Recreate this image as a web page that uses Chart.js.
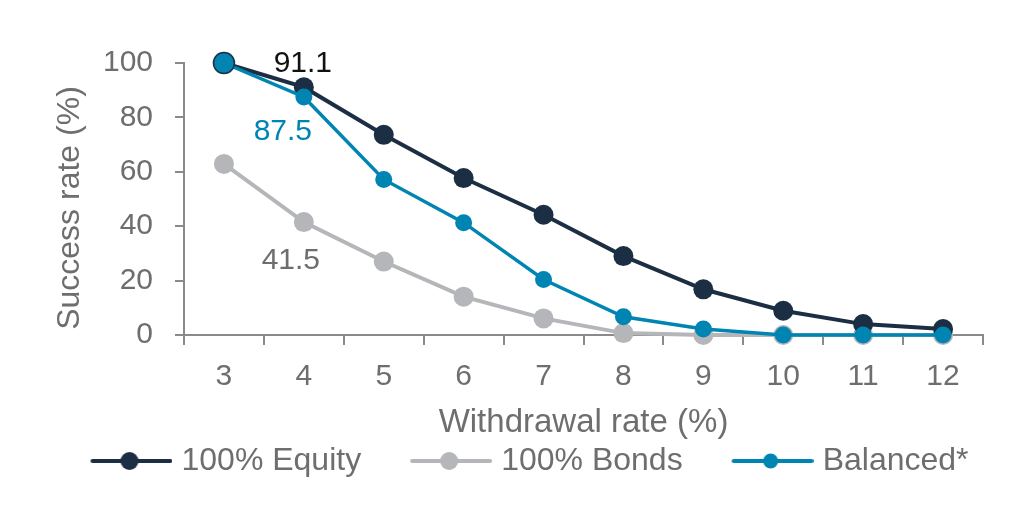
<!DOCTYPE html>
<html>
<head>
<meta charset="utf-8">
<title>Success rate by withdrawal rate</title>
<script src="https://cdn.jsdelivr.net/npm/chart.js@4.4.1/dist/chart.umd.min.js"></script>
<style>
    html, body { margin: 0; padding: 0; background: #fff; }
    #wrap { width: 1024px; height: 516px; }
</style>
</head>
<body>
<div id="wrap"><canvas id="successChart"></canvas></div>
<script>
// Data
const withdrawalRates = ['3', '4', '5', '6', '7', '8', '9', '10', '11', '12'];
const equityValues = [100, 91.1, 73.6, 57.7, 44.2, 29.0, 16.8, 8.9, 4.0, 2.2];
const bondsValues = [62.9, 41.5, 27.0, 14.1, 6.1, 0.7, 0, 0, 0, 0];
const balancedValues = [100, 87.5, 57.2, 41.3, 20.4, 6.7, 2.2, 0, 0, 0];
const seriesNames = ['100% Equity', '100% Bonds', 'Balanced*'];
const yTickValues = [0, 20, 40, 60, 80, 100];

const NAVY = '#1b2e43';
const GREY = '#b5b6b9';
const TEAL = '#0085b3';
const TEXT = '#6e6e6e';
const AXIS = '#8a8a8a';
const FONT = "'Liberation Sans', Arial, sans-serif";

Chart.defaults.font.family = FONT;
Chart.defaults.color = TEXT;

// legend icon: a short line with a dot on it
const LEGEND_BOX = 120;
function legendIcon(color, lineW, r) {
    const c = document.createElement('canvas');
    c.width = LEGEND_BOX + 14;
    c.height = 24;
    const ctx = c.getContext('2d');
    ctx.strokeStyle = color;
    ctx.lineWidth = lineW;
    ctx.lineCap = 'round';
    ctx.beginPath();
    ctx.moveTo(c.width - 82 + 2, 12);
    ctx.lineTo(c.width - 2, 12);
    ctx.stroke();
    ctx.fillStyle = color;
    ctx.beginPath();
    ctx.arc(c.width - 43, 12, r, 0, Math.PI * 2);
    ctx.fill();
    return c;
}
const legendIcons = [legendIcon(NAVY, 4, 9), legendIcon(GREY, 4, 9), legendIcon(TEAL, 4, 7.5)];

// value labels placed next to the 4% points
const valueLabels = [
    { dataset: 0, index: 1, color: '#111111', dx: -1, dy: -15 },
    { dataset: 2, index: 1, color: TEAL, dx: -21, dy: 43 },
    { dataset: 1, index: 1, color: TEXT, dx: -13, dy: 47 }
];

const valueLabelPlugin = {
    id: 'valueLabels',
    afterDatasetsDraw(chart) {
        const ctx = chart.ctx;
        ctx.save();
        ctx.font = '30px ' + FONT;
        ctx.textAlign = 'center';
        ctx.textBaseline = 'alphabetic';
        valueLabels.forEach(l => {
            const pt = chart.getDatasetMeta(l.dataset).data[l.index];
            const v = chart.data.datasets[l.dataset].data[l.index];
            ctx.fillStyle = l.color;
            ctx.fillText(v.toFixed(1), pt.x + l.dx, pt.y + l.dy);
        });
        ctx.restore();
    }
};

// the y title in the reference sits a little below the middle of the axis
const yTitleShift = {
    id: 'yTitleShift',
    afterLayout(chart) {
        const s = chart.scales.y;
        if (s._shifted) return;
        const orig = s.drawTitle;
        s.drawTitle = function () {
            const c = this.ctx;
            c.save();
            c.translate(0, 9);
            orig.apply(this, arguments);
            c.restore();
        };
        s._shifted = true;
    }
};

const ctx = document.getElementById('successChart').getContext('2d');
new Chart(ctx, {
    type: 'line',
    data: {
        labels: withdrawalRates,
        datasets: [
            {
                label: seriesNames[0],
                data: equityValues,
                borderColor: NAVY,
                backgroundColor: NAVY,
                borderWidth: 4,
                pointRadius: 10,
                pointBorderWidth: 0,
                order: 1
            },
            {
                label: seriesNames[1],
                data: bondsValues,
                borderColor: GREY,
                backgroundColor: GREY,
                borderWidth: 4,
                pointRadius: 10,
                pointBorderWidth: 0,
                order: 2
            },
            {
                label: seriesNames[2],
                data: balancedValues,
                borderColor: TEAL,
                backgroundColor: TEAL,
                borderWidth: 3.5,
                pointRadius: [10.5, 8.5, 8.5, 8.5, 8.5, 8.5, 8.5, 8.5, 8.5, 8.5],
                pointBorderColor: [NAVY, TEAL, TEAL, TEAL, TEAL, TEAL, TEAL, TEAL, TEAL, TEAL],
                pointBorderWidth: [1.5, 0, 0, 0, 0, 0, 0, 0, 0, 0],
                order: 0
            }
        ]
    },
    options: {
        responsive: true,
        maintainAspectRatio: false,
        animation: false,
        clip: false,
        layout: { padding: { left: 0, right: 10, top: 63, bottom: 29 } },
        plugins: {
            tooltip: { enabled: false },
            legend: {
                position: 'bottom',
                labels: {
                    usePointStyle: true,
                    pointStyleWidth: LEGEND_BOX,
                    padding: 4,
                    color: TEXT,
                    font: { size: 32 },
                    sort: (a, b) => a.datasetIndex - b.datasetIndex,
                    generateLabels: chart => Chart.defaults.plugins.legend.labels.generateLabels(chart)
                        .map(item => Object.assign(item, { pointStyle: legendIcons[item.datasetIndex] }))
                }
            }
        },
        scales: {
            x: {
                offset: true,
                grid: {
                    offset: true,
                    drawOnChartArea: false,
                    drawTicks: true,
                    tickLength: 10,
                    color: AXIS,
                    lineWidth: 2
                },
                border: { display: true, color: AXIS, width: 2 },
                ticks: { padding: 14, color: TEXT, font: { size: 30 } },
                title: {
                    display: true,
                    text: 'Withdrawal rate (%)',
                    color: TEXT,
                    font: { size: 33, lineHeight: 1 },
                    padding: { top: 0, bottom: 2 }
                },
                afterFit(scale) { scale.height = 106; }
            },
            y: {
                min: 0,
                max: 100,
                afterBuildTicks(scale) { scale.ticks = yTickValues.map(v => ({ value: v })); },
                grid: {
                    drawOnChartArea: false,
                    drawTicks: true,
                    tickLength: 9,
                    color: AXIS,
                    lineWidth: 2
                },
                border: { display: true, color: AXIS, width: 2 },
                ticks: { padding: 22, color: TEXT, font: { size: 30 } },
                title: {
                    display: true,
                    text: 'Success rate (%)',
                    color: TEXT,
                    font: { size: 32 },
                    padding: { top: 51, bottom: 0 }
                },
                afterFit(scale) { scale.width = 184; }
            },
            // empty spacer on the right so the plot ends where the reference does
            spacer: {
                type: 'linear',
                position: 'right',
                display: true,
                grid: { display: false },
                border: { display: false },
                ticks: { display: false },
                afterFit(scale) { scale.width = 31; }
            }
        }
    },
    plugins: [valueLabelPlugin, yTitleShift]
});
</script>
</body>
</html>
